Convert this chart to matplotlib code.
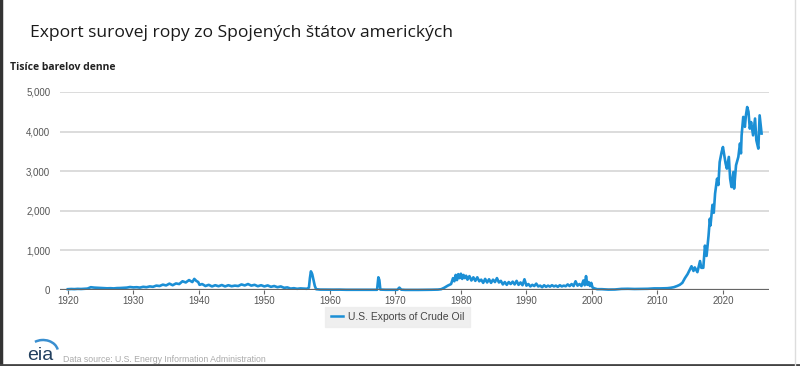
import matplotlib
matplotlib.use('Agg')
import matplotlib.pyplot as plt
import matplotlib.patches as patches
from matplotlib.lines import Line2D

BLUE = '#1b8fd5'
GRID = '#d9d9d9'
AXIS = '#666666'
LABEL = '#555555'

# decimal years and exports (thousand barrels per day)
dates = [
    1920.0, 1920.5, 1921.0, 1921.5, 1922.0, 1922.5, 1923.0, 1923.5, 1924.0, 1924.5,
    1925.0, 1925.5, 1926.0, 1926.5, 1927.0, 1927.5, 1928.0, 1928.5, 1929.0, 1929.5,
    1930.0, 1930.5, 1931.0, 1931.5, 1932.0, 1932.5, 1933.0, 1933.5, 1934.0, 1934.5,
    1935.0, 1935.5, 1936.0, 1936.5, 1937.0, 1937.5, 1938.0, 1938.5, 1939.0, 1939.3,
    1939.6, 1939.9, 1940.1, 1940.5, 1941.0, 1941.5, 1942.0, 1942.5, 1943.0, 1943.5,
    1944.0, 1944.5, 1945.0, 1945.5, 1946.0, 1946.5, 1947.0, 1947.5, 1948.0, 1948.5,
    1949.0, 1949.5, 1950.0, 1950.5, 1951.0, 1951.5, 1952.0, 1952.5, 1953.0, 1953.5,
    1954.0, 1954.5, 1955.0, 1955.5, 1956.0, 1956.5, 1956.8, 1956.95, 1957.1, 1957.3,
    1957.5, 1957.7, 1957.9, 1958.5, 1959.5, 1960.5, 1961.5, 1962.5, 1963.5, 1964.5,
    1965.5, 1966.5, 1967.2, 1967.4, 1967.55, 1967.7, 1968.5, 1969.5, 1970.3, 1970.6,
    1970.9, 1971.5, 1972.5, 1973.5, 1974.5, 1975.5, 1976.5, 1977.0, 1977.5, 1978.0,
    1978.5, 1978.8, 1979.0, 1979.2, 1979.4, 1979.6, 1979.8, 1980.0, 1980.2, 1980.4,
    1980.6, 1980.8, 1981.0, 1981.3, 1981.6, 1981.9, 1982.2, 1982.5, 1982.8, 1983.1,
    1983.4, 1983.7, 1984.0, 1984.3, 1984.6, 1984.9, 1985.2, 1985.5, 1985.8, 1986.1,
    1986.4, 1986.7, 1987.0, 1987.3, 1987.6, 1987.9, 1988.2, 1988.5, 1988.8, 1989.1,
    1989.4, 1989.7, 1990.0, 1990.3, 1990.6, 1990.9, 1991.2, 1991.5, 1991.8, 1992.1,
    1992.4, 1992.7, 1993.0, 1993.3, 1993.6, 1993.9, 1994.2, 1994.5, 1994.8, 1995.1,
    1995.4, 1995.7, 1996.0, 1996.3, 1996.6, 1996.9, 1997.2, 1997.5, 1997.8, 1998.1,
    1998.4, 1998.7, 1998.9, 1999.1, 1999.3, 1999.5, 1999.7, 1999.9, 2000.1, 2000.4,
    2000.8, 2001.5, 2002.5, 2003.5, 2004.5, 2005.5, 2006.5, 2007.5, 2008.5, 2009.5,
    2010.5, 2011.5, 2012.0, 2012.5, 2013.0, 2013.4, 2013.8, 2014.2, 2014.6, 2015.0,
    2015.2, 2015.5, 2015.7, 2016.1, 2016.5, 2016.7, 2017.0, 2017.25, 2017.5, 2017.8,
    2018.0, 2018.1, 2018.4, 2018.6, 2018.8, 2019.1, 2019.3, 2019.5, 2019.8, 2020.0,
    2020.2, 2020.4, 2020.6, 2020.9, 2021.1, 2021.3, 2021.6, 2021.7, 2022.0, 2022.35,
    2022.6, 2022.75, 2022.85, 2023.1, 2023.35, 2023.5, 2023.7, 2023.9, 2024.1, 2024.3,
    2024.6, 2024.9, 2025.1, 2025.4, 2025.6, 2025.9,
]
exports = [
    20, 25, 22, 28, 25, 30, 35, 70, 60, 55,
    48, 45, 42, 45, 40, 48, 50, 55, 60, 75,
    65, 70, 60, 80, 70, 90, 80, 110, 100, 135,
    115, 160, 120, 165, 150, 220, 190, 250, 200, 280,
    230, 200, 130, 150, 100, 130, 90, 120, 95, 125,
    90, 120, 95, 110, 100, 140, 115, 150, 110, 130,
    95, 120, 90, 115, 80, 100, 70, 90, 55, 65,
    35, 45, 30, 40, 35, 30, 60, 300, 470, 400,
    250, 100, 20, 10, 8, 8, 9, 5, 5, 4,
    3, 4, 5, 320, 250, 10, 5, 4, 5, 60,
    8, 2, 1, 2, 3, 6, 10, 20, 60, 110,
    150, 300, 220, 380, 250, 400, 300, 410, 280, 380,
    300, 360, 260, 350, 240, 320, 230, 320, 220, 260,
    180, 280, 190, 270, 180, 260, 200, 300, 190, 230,
    140, 200, 130, 200, 150, 210, 140, 230, 130, 190,
    120, 270, 110, 150, 90, 130, 100, 160, 90, 110,
    70, 120, 80, 110, 85, 120, 90, 110, 80, 120,
    90, 110, 95, 140, 100, 150, 100, 220, 110, 150,
    100, 240, 120, 350, 130, 200, 100, 180, 60, 40,
    20, 20, 10, 12, 27, 30, 25, 27, 30, 40,
    40, 45, 55, 70, 100, 130, 180, 300, 400, 530,
    600, 480, 570, 450, 730, 560, 560, 1120, 860, 1370,
    1800, 1630, 2150, 1950, 2435, 2810, 2650, 3230, 3485, 3610,
    3400, 3200, 3065, 3360, 2810, 2600, 2980, 2560, 3150, 3360,
    3700, 3450, 3905, 4370, 4120, 4400, 4620, 4500, 4075, 4240,
    3905, 4330, 3780, 3570, 4410, 3950,
]

y_ticks = [0, 1000, 2000, 3000, 4000, 5000]
x_ticks = [1920, 1930, 1940, 1950, 1960, 1970, 1980, 1990, 2000, 2010, 2020]

fig = plt.figure(figsize=(8, 3.66), dpi=100)
fig.patch.set_facecolor('white')
ax = fig.add_axes([0.075, 0.2077, 0.886, 0.541])

for v in y_ticks[1:]:
    ax.axhline(v, color=GRID, lw=1.3, zorder=1)
ax.axhline(0, color=AXIS, lw=1.6, zorder=3)

ax.plot(dates, exports, color=BLUE, lw=1.9, zorder=2, clip_on=False)

ax.set_xlim(1918.8, 2027.0)
ax.set_ylim(0, 5000)
ax.set_xticks(x_ticks)
ax.set_yticks(y_ticks)
ax.set_yticklabels(['0' if v == 0 else f'{v:,}' for v in y_ticks])
for s in ax.spines.values():
    s.set_visible(False)
ax.tick_params(axis='y', length=0, pad=7, labelsize=7, labelcolor=LABEL)
ax.tick_params(axis='x', length=3, width=0.8, color=AXIS, pad=1,
               labelsize=7, labelcolor=LABEL)
for lab in ax.get_xticklabels() + ax.get_yticklabels():
    lab.set_fontfamily('Liberation Sans')

# legend box
handle = Line2D([], [], color=BLUE, lw=1.8)
leg = fig.legend([handle], ['U.S. Exports of Crude Oil'], loc='center',
                 bbox_to_anchor=(0.497, 0.134), frameon=True, fancybox=False,
                 handlelength=1.2, handletextpad=0.5, borderpad=0.5,
                 prop={'family': 'Liberation Sans', 'size': 7.5})
leg.get_frame().set_facecolor('#ececec')
leg.get_frame().set_edgecolor('#ececec')
for t in leg.get_texts():
    t.set_color('#444444')

# titles
fig.text(30 / 800, 1 - 33 / 366, 'Export surovej ropy zo Spojených štátov amerických',
         fontsize=12.6, color='#1a1a1a', family='Open Sans', va='center', ha='left')
fig.text(10 / 800, 1 - 68 / 366, 'Tisíce barelov denne', fontsize=7.5,
         color='#222222', family='Open Sans', fontweight='bold', va='center', ha='left')

# eia logo and source note
fig.text(27 / 800, 1 - 356 / 366, 'eia', fontsize=14, color='#23405f',
         family='Liberation Sans', va='center', ha='left')
fig.add_artist(patches.Arc((43 / 800, 1 - 352 / 366), 30 / 800, 24 / 366,
                           theta1=20, theta2=110, color='#3a8fd0', lw=1.8,
                           transform=fig.transFigure))
fig.text(63 / 800, 1 - 359 / 366, 'Data source: U.S. Energy Information Administration',
         fontsize=6.3, color='#aaaaaa', family='Liberation Sans', va='center', ha='left')

# page borders
fig.add_artist(Line2D([0.0015, 0.0015], [0, 1], color='#333333', lw=2.5,
                      transform=fig.transFigure))
fig.add_artist(Line2D([0, 1], [0.003, 0.003], color='#444444', lw=2,
                      transform=fig.transFigure))
fig.add_artist(Line2D([795 / 800, 795 / 800], [0, 1], color='#dddddd', lw=1,
                      transform=fig.transFigure))

fig.savefig('out.png', dpi=100, facecolor='white')
